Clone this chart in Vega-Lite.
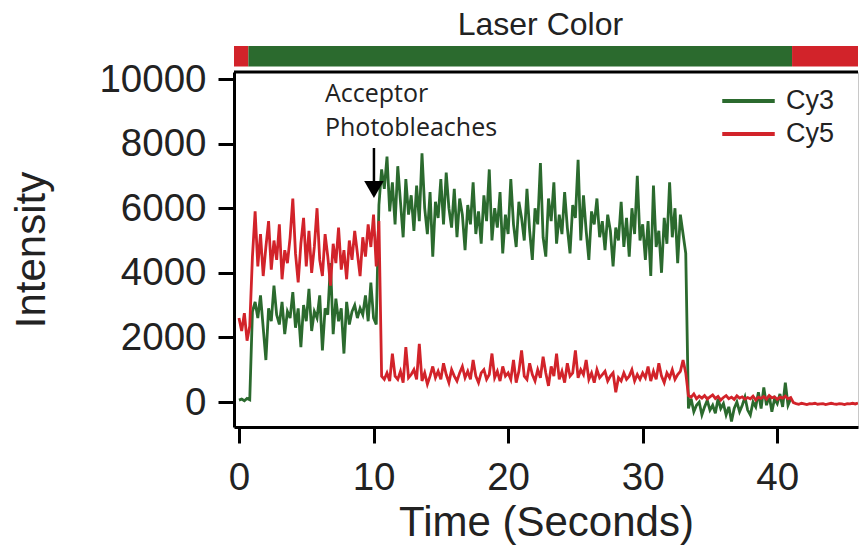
{
  "$schema": "https://vega.github.io/schema/vega-lite/v6.json",
  "autosize": {"type": "none"},
  "width": 624,
  "height": 355,
  "padding": {"left": 234, "top": 72, "right": 2, "bottom": 123},
  "background": "white",
  "config": {
    "view": {"stroke": "#c8c8c8", "strokeWidth": 1},
    "axis": {
      "domainColor": "black", "domainWidth": 3, "tickColor": "black", "tickWidth": 3, "tickSize": 16,
      "labelFont": "Liberation Sans", "labelFontSize": 38.5, "labelColor": "#222222",
      "titleFont": "Liberation Sans", "titleFontSize": 42, "titleFontWeight": "normal", "titleColor": "#222222",
      "grid": false
    },
    "axisX": {"labelPadding": 16, "titlePadding": 6},
    "axisY": {"labelPadding": 12, "titlePadding": 45},
    "legend": {
      "labelFont": "Liberation Sans", "labelFontSize": 27, "labelColor": "#222222",
      "symbolType": "M-2.5,0H2.5", "symbolStrokeWidth": 4, "symbolSize": 441, "labelOffset": 24,
      "rowPadding": 5, "padding": 0
    }
  },
  "datasets": {
    "traces": [
      {"t": 0.0, "Cy3": 60, "Cy5": 2600},
      {"t": 0.2, "Cy3": 90, "Cy5": 2200},
      {"t": 0.4, "Cy3": 40, "Cy5": 2750},
      {"t": 0.6, "Cy3": 110, "Cy5": 1900},
      {"t": 0.8, "Cy3": 70, "Cy5": 2350},
      {"t": 1.0, "Cy3": 2800, "Cy5": 4500},
      {"t": 1.2, "Cy3": 3100, "Cy5": 5900},
      {"t": 1.4, "Cy3": 2600, "Cy5": 4200},
      {"t": 1.6, "Cy3": 3300, "Cy5": 5200},
      {"t": 1.8, "Cy3": 2300, "Cy5": 3900},
      {"t": 2.0, "Cy3": 1300, "Cy5": 4800},
      {"t": 2.2, "Cy3": 2900, "Cy5": 5600},
      {"t": 2.4, "Cy3": 2500, "Cy5": 4100},
      {"t": 2.6, "Cy3": 3600, "Cy5": 5000},
      {"t": 2.8, "Cy3": 2700, "Cy5": 4400},
      {"t": 3.0, "Cy3": 2400, "Cy5": 5500},
      {"t": 3.2, "Cy3": 3100, "Cy5": 3800},
      {"t": 3.4, "Cy3": 2100, "Cy5": 4700},
      {"t": 3.6, "Cy3": 2800, "Cy5": 4300},
      {"t": 3.8, "Cy3": 2600, "Cy5": 5100},
      {"t": 4.0, "Cy3": 3400, "Cy5": 6300},
      {"t": 4.2, "Cy3": 2300, "Cy5": 4600},
      {"t": 4.4, "Cy3": 2900, "Cy5": 3700},
      {"t": 4.6, "Cy3": 1700, "Cy5": 4900},
      {"t": 4.8, "Cy3": 3000, "Cy5": 5700},
      {"t": 5.0, "Cy3": 2500, "Cy5": 4200},
      {"t": 5.2, "Cy3": 3500, "Cy5": 5300},
      {"t": 5.4, "Cy3": 2200, "Cy5": 4000},
      {"t": 5.6, "Cy3": 2800, "Cy5": 4800},
      {"t": 5.8, "Cy3": 2600, "Cy5": 6000},
      {"t": 6.0, "Cy3": 3300, "Cy5": 4400},
      {"t": 6.2, "Cy3": 1600, "Cy5": 3900},
      {"t": 6.4, "Cy3": 2900, "Cy5": 5200},
      {"t": 6.6, "Cy3": 2700, "Cy5": 4500},
      {"t": 6.8, "Cy3": 4300, "Cy5": 3600},
      {"t": 7.0, "Cy3": 2100, "Cy5": 4900},
      {"t": 7.2, "Cy3": 3200, "Cy5": 4300},
      {"t": 7.4, "Cy3": 2500, "Cy5": 5400},
      {"t": 7.6, "Cy3": 2900, "Cy5": 4100},
      {"t": 7.8, "Cy3": 1500, "Cy5": 4700},
      {"t": 8.0, "Cy3": 3100, "Cy5": 3800},
      {"t": 8.2, "Cy3": 2400, "Cy5": 5000},
      {"t": 8.4, "Cy3": 2800, "Cy5": 4400},
      {"t": 8.6, "Cy3": 3000, "Cy5": 5300},
      {"t": 8.8, "Cy3": 2600, "Cy5": 4600},
      {"t": 9.0, "Cy3": 2900, "Cy5": 3900},
      {"t": 9.2, "Cy3": 2700, "Cy5": 5100},
      {"t": 9.4, "Cy3": 3300, "Cy5": 4500},
      {"t": 9.6, "Cy3": 2500, "Cy5": 5500},
      {"t": 9.8, "Cy3": 3700, "Cy5": 4800},
      {"t": 10.0, "Cy3": 2600, "Cy5": 5800},
      {"t": 10.2, "Cy3": 2400, "Cy5": 4200},
      {"t": 10.4, "Cy3": 6100, "Cy5": 5600},
      {"t": 10.6, "Cy3": 7200, "Cy5": 800},
      {"t": 10.8, "Cy3": 6600, "Cy5": 700},
      {"t": 11.0, "Cy3": 7600, "Cy5": 900},
      {"t": 11.2, "Cy3": 5900, "Cy5": 650},
      {"t": 11.4, "Cy3": 6800, "Cy5": 1500},
      {"t": 11.6, "Cy3": 5500, "Cy5": 800},
      {"t": 11.8, "Cy3": 7300, "Cy5": 700},
      {"t": 12.0, "Cy3": 6200, "Cy5": 950},
      {"t": 12.2, "Cy3": 5100, "Cy5": 600},
      {"t": 12.4, "Cy3": 6900, "Cy5": 1700},
      {"t": 12.6, "Cy3": 5800, "Cy5": 750},
      {"t": 12.8, "Cy3": 6400, "Cy5": 850},
      {"t": 13.0, "Cy3": 5300, "Cy5": 1000},
      {"t": 13.2, "Cy3": 6700, "Cy5": 700},
      {"t": 13.4, "Cy3": 5600, "Cy5": 1800},
      {"t": 13.6, "Cy3": 7700, "Cy5": 650},
      {"t": 13.8, "Cy3": 6000, "Cy5": 900},
      {"t": 14.0, "Cy3": 5200, "Cy5": 550},
      {"t": 14.2, "Cy3": 6500, "Cy5": 800},
      {"t": 14.4, "Cy3": 4500, "Cy5": 1100},
      {"t": 14.6, "Cy3": 6200, "Cy5": 750},
      {"t": 14.8, "Cy3": 5700, "Cy5": 950},
      {"t": 15.0, "Cy3": 6900, "Cy5": 700},
      {"t": 15.2, "Cy3": 5500, "Cy5": 1200},
      {"t": 15.4, "Cy3": 7100, "Cy5": 850},
      {"t": 15.6, "Cy3": 6000, "Cy5": 600},
      {"t": 15.8, "Cy3": 5400, "Cy5": 1000},
      {"t": 16.0, "Cy3": 6600, "Cy5": 800},
      {"t": 16.2, "Cy3": 5100, "Cy5": 650},
      {"t": 16.4, "Cy3": 6300, "Cy5": 900},
      {"t": 16.6, "Cy3": 5800, "Cy5": 1100},
      {"t": 16.8, "Cy3": 4700, "Cy5": 750},
      {"t": 17.0, "Cy3": 6100, "Cy5": 950},
      {"t": 17.2, "Cy3": 5500, "Cy5": 700},
      {"t": 17.4, "Cy3": 6800, "Cy5": 1300},
      {"t": 17.6, "Cy3": 5200, "Cy5": 800},
      {"t": 17.8, "Cy3": 5900, "Cy5": 600},
      {"t": 18.0, "Cy3": 4900, "Cy5": 900},
      {"t": 18.2, "Cy3": 6400, "Cy5": 1000},
      {"t": 18.4, "Cy3": 5600, "Cy5": 700},
      {"t": 18.6, "Cy3": 7200, "Cy5": 850},
      {"t": 18.8, "Cy3": 5000, "Cy5": 1500},
      {"t": 19.0, "Cy3": 6000, "Cy5": 750},
      {"t": 19.2, "Cy3": 5400, "Cy5": 950},
      {"t": 19.4, "Cy3": 6500, "Cy5": 650},
      {"t": 19.6, "Cy3": 4600, "Cy5": 1100},
      {"t": 19.8, "Cy3": 5800, "Cy5": 800},
      {"t": 20.0, "Cy3": 5200, "Cy5": 900},
      {"t": 20.2, "Cy3": 6900, "Cy5": 700},
      {"t": 20.4, "Cy3": 5500, "Cy5": 1300},
      {"t": 20.6, "Cy3": 4800, "Cy5": 600},
      {"t": 20.8, "Cy3": 6200, "Cy5": 950},
      {"t": 21.0, "Cy3": 5700, "Cy5": 1600},
      {"t": 21.2, "Cy3": 5000, "Cy5": 800},
      {"t": 21.4, "Cy3": 6600, "Cy5": 700},
      {"t": 21.6, "Cy3": 5300, "Cy5": 1200},
      {"t": 21.8, "Cy3": 4400, "Cy5": 850},
      {"t": 22.0, "Cy3": 6000, "Cy5": 650},
      {"t": 22.2, "Cy3": 5500, "Cy5": 1000},
      {"t": 22.4, "Cy3": 7400, "Cy5": 750},
      {"t": 22.6, "Cy3": 5100, "Cy5": 1400},
      {"t": 22.8, "Cy3": 4500, "Cy5": 900},
      {"t": 23.0, "Cy3": 6300, "Cy5": 500},
      {"t": 23.2, "Cy3": 5600, "Cy5": 1100},
      {"t": 23.4, "Cy3": 6800, "Cy5": 800},
      {"t": 23.6, "Cy3": 4900, "Cy5": 1500},
      {"t": 23.8, "Cy3": 5800, "Cy5": 700},
      {"t": 24.0, "Cy3": 5200, "Cy5": 950},
      {"t": 24.2, "Cy3": 6500, "Cy5": 600},
      {"t": 24.4, "Cy3": 5400, "Cy5": 1200},
      {"t": 24.6, "Cy3": 4600, "Cy5": 800},
      {"t": 24.8, "Cy3": 6100, "Cy5": 900},
      {"t": 25.0, "Cy3": 5700, "Cy5": 1600},
      {"t": 25.2, "Cy3": 7500, "Cy5": 750},
      {"t": 25.4, "Cy3": 5000, "Cy5": 1000},
      {"t": 25.6, "Cy3": 6400, "Cy5": 850},
      {"t": 25.8, "Cy3": 5300, "Cy5": 1300},
      {"t": 26.0, "Cy3": 4400, "Cy5": 700},
      {"t": 26.2, "Cy3": 5900, "Cy5": 900},
      {"t": 26.4, "Cy3": 5500, "Cy5": 600},
      {"t": 26.6, "Cy3": 6300, "Cy5": 1000},
      {"t": 26.8, "Cy3": 5100, "Cy5": 750},
      {"t": 27.0, "Cy3": 5600, "Cy5": 850},
      {"t": 27.2, "Cy3": 4700, "Cy5": 950},
      {"t": 27.4, "Cy3": 5800, "Cy5": 650},
      {"t": 27.6, "Cy3": 5300, "Cy5": 800},
      {"t": 27.8, "Cy3": 4200, "Cy5": 900},
      {"t": 28.0, "Cy3": 5400, "Cy5": 300},
      {"t": 28.2, "Cy3": 5000, "Cy5": 750},
      {"t": 28.4, "Cy3": 6200, "Cy5": 650},
      {"t": 28.6, "Cy3": 4800, "Cy5": 900},
      {"t": 28.8, "Cy3": 5700, "Cy5": 700},
      {"t": 29.0, "Cy3": 4500, "Cy5": 800},
      {"t": 29.2, "Cy3": 6000, "Cy5": 1000},
      {"t": 29.4, "Cy3": 5200, "Cy5": 650},
      {"t": 29.6, "Cy3": 7000, "Cy5": 850},
      {"t": 29.8, "Cy3": 5000, "Cy5": 700},
      {"t": 30.0, "Cy3": 5500, "Cy5": 900},
      {"t": 30.2, "Cy3": 4400, "Cy5": 750},
      {"t": 30.4, "Cy3": 5600, "Cy5": 1100},
      {"t": 30.6, "Cy3": 3900, "Cy5": 650},
      {"t": 30.8, "Cy3": 6700, "Cy5": 950},
      {"t": 31.0, "Cy3": 4800, "Cy5": 700},
      {"t": 31.2, "Cy3": 5300, "Cy5": 1200},
      {"t": 31.4, "Cy3": 4000, "Cy5": 800},
      {"t": 31.6, "Cy3": 5700, "Cy5": 600},
      {"t": 31.8, "Cy3": 4900, "Cy5": 900},
      {"t": 32.0, "Cy3": 6800, "Cy5": 750},
      {"t": 32.2, "Cy3": 5100, "Cy5": 1000},
      {"t": 32.4, "Cy3": 6000, "Cy5": 700},
      {"t": 32.6, "Cy3": 4300, "Cy5": 850},
      {"t": 32.8, "Cy3": 5800, "Cy5": 950},
      {"t": 33.0, "Cy3": 5200, "Cy5": 1300},
      {"t": 33.2, "Cy3": 4600, "Cy5": 900},
      {"t": 33.4, "Cy3": -200, "Cy5": 200},
      {"t": 33.6, "Cy3": 100, "Cy5": 150},
      {"t": 33.8, "Cy3": -300, "Cy5": 250},
      {"t": 34.0, "Cy3": -100, "Cy5": 100},
      {"t": 34.2, "Cy3": 0, "Cy5": 180},
      {"t": 34.4, "Cy3": -400, "Cy5": 120},
      {"t": 34.6, "Cy3": -150, "Cy5": 200},
      {"t": 34.8, "Cy3": 50, "Cy5": 90},
      {"t": 35.0, "Cy3": -250, "Cy5": 160},
      {"t": 35.2, "Cy3": -100, "Cy5": 220},
      {"t": 35.4, "Cy3": -350, "Cy5": 110},
      {"t": 35.6, "Cy3": 100, "Cy5": 170},
      {"t": 35.8, "Cy3": -200, "Cy5": 60},
      {"t": 36.0, "Cy3": -50, "Cy5": 140},
      {"t": 36.2, "Cy3": -400, "Cy5": 200},
      {"t": 36.4, "Cy3": -150, "Cy5": 100},
      {"t": 36.6, "Cy3": -600, "Cy5": 150},
      {"t": 36.8, "Cy3": -200, "Cy5": 80},
      {"t": 37.0, "Cy3": 0, "Cy5": 190},
      {"t": 37.2, "Cy3": -300, "Cy5": 120},
      {"t": 37.4, "Cy3": -100, "Cy5": 160},
      {"t": 37.6, "Cy3": 150, "Cy5": 90},
      {"t": 37.8, "Cy3": -250, "Cy5": 140},
      {"t": 38.0, "Cy3": -400, "Cy5": 100},
      {"t": 38.2, "Cy3": 0, "Cy5": 180},
      {"t": 38.4, "Cy3": -150, "Cy5": 60},
      {"t": 38.6, "Cy3": 300, "Cy5": 150},
      {"t": 38.8, "Cy3": -200, "Cy5": 110},
      {"t": 39.0, "Cy3": 450, "Cy5": 170},
      {"t": 39.2, "Cy3": -100, "Cy5": 90},
      {"t": 39.4, "Cy3": 200, "Cy5": 200},
      {"t": 39.6, "Cy3": -300, "Cy5": 130},
      {"t": 39.8, "Cy3": 100, "Cy5": 160},
      {"t": 40.0, "Cy3": -50, "Cy5": 80},
      {"t": 40.2, "Cy3": 250, "Cy5": 150},
      {"t": 40.4, "Cy3": -150, "Cy5": 120},
      {"t": 40.6, "Cy3": 600, "Cy5": 180},
      {"t": 40.8, "Cy3": -100, "Cy5": 100},
      {"t": 41.0, "Cy3": 100, "Cy5": 140},
      {"t": 41.2, "Cy3": null, "Cy5": -20},
      {"t": 41.4, "Cy3": null, "Cy5": -50},
      {"t": 41.6, "Cy3": null, "Cy5": -70},
      {"t": 41.8, "Cy3": null, "Cy5": -40},
      {"t": 42.0, "Cy3": null, "Cy5": -60},
      {"t": 42.2, "Cy3": null, "Cy5": -80},
      {"t": 42.4, "Cy3": null, "Cy5": -50},
      {"t": 42.6, "Cy3": null, "Cy5": -60},
      {"t": 42.8, "Cy3": null, "Cy5": -40},
      {"t": 43.0, "Cy3": null, "Cy5": -70},
      {"t": 43.2, "Cy3": null, "Cy5": -60},
      {"t": 43.4, "Cy3": null, "Cy5": -50},
      {"t": 43.6, "Cy3": null, "Cy5": -80},
      {"t": 43.8, "Cy3": null, "Cy5": -60},
      {"t": 44.0, "Cy3": null, "Cy5": -40},
      {"t": 44.2, "Cy3": null, "Cy5": -60},
      {"t": 44.4, "Cy3": null, "Cy5": -70},
      {"t": 44.6, "Cy3": null, "Cy5": -50},
      {"t": 44.8, "Cy3": null, "Cy5": -60},
      {"t": 45.0, "Cy3": null, "Cy5": -80},
      {"t": 45.2, "Cy3": null, "Cy5": -50},
      {"t": 45.4, "Cy3": null, "Cy5": -60},
      {"t": 45.6, "Cy3": null, "Cy5": -40},
      {"t": 45.8, "Cy3": null, "Cy5": -60},
      {"t": 46.0, "Cy3": null, "Cy5": -30}
    ],
    "laser": [
      {"start": -0.37, "end": 0.7, "channel": "Cy5"},
      {"start": 0.7, "end": 41.1, "channel": "Cy3"},
      {"start": 41.1, "end": 46.0, "channel": "Cy5"}
    ]
  },
  "layer": [
    {
      "data": {"name": "laser"},
      "mark": {"type": "rect"},
      "encoding": {
        "x": {"field": "start", "type": "quantitative", "title": "Time (Seconds)"},
        "x2": {"field": "end"},
        "y": {"datum": 10387, "type": "quantitative", "title": "Intensity"},
        "y2": {"datum": 11022},
        "color": {"field": "channel", "type": "nominal"}
      }
    },
    {
      "data": {"name": "traces"},
      "transform": [{"fold": ["Cy3", "Cy5"], "as": ["channel", "intensity"]}],
      "mark": {"type": "line", "strokeWidth": 2.8, "clip": true},
      "encoding": {
        "x": {
          "field": "t", "type": "quantitative", "title": "Time (Seconds)",
          "scale": {"domain": [-0.37, 46.0], "nice": false, "zero": false},
          "axis": {"values": [0, 10, 20, 30, 40], "format": "d"}
        },
        "y": {
          "field": "intensity", "type": "quantitative", "title": "Intensity",
          "scale": {"domain": [-774, 10217], "nice": false, "zero": false},
          "axis": {"values": [0, 2000, 4000, 6000, 8000, 10000], "format": "d"}
        },
        "color": {
          "field": "channel", "type": "nominal",
          "scale": {"domain": ["Cy3", "Cy5"], "range": ["#2b6a2e", "#d2232a"]},
          "legend": {"title": null, "orient": "none", "legendX": 501, "legendY": 15.5}
        },
        "detail": {"field": "channel"}
      }
    },
    {
      "data": {"values": [{}]},
      "mark": {"type": "rule", "strokeWidth": 3, "color": "black"},
      "encoding": {"y": {"datum": 10217, "type": "quantitative", "title": "Intensity"}}
    },
    {
      "data": {"values": [{}]},
      "mark": {"type": "text", "text": "Laser Color", "font": "Liberation Sans", "fontSize": 32, "color": "#222222", "align": "center", "baseline": "alphabetic"},
      "encoding": {
        "x": {"datum": 22.4, "type": "quantitative", "title": "Time (Seconds)"},
        "y": {"datum": 11363, "type": "quantitative", "title": "Intensity"}
      }
    },
    {
      "data": {"values": [{}]},
      "mark": {"type": "text", "text": ["Acceptor", "Photobleaches"], "font": "Open Sans", "fontSize": 25, "lineHeight": 34, "color": "#222222", "align": "left", "baseline": "alphabetic"},
      "encoding": {
        "x": {"datum": 6.39, "type": "quantitative", "title": "Time (Seconds)"},
        "y": {"datum": 9288, "type": "quantitative", "title": "Intensity"}
      }
    },
    {
      "data": {"values": [{}]},
      "mark": {"type": "rule", "strokeWidth": 2.5, "color": "black"},
      "encoding": {
        "x": {"datum": 10.03, "type": "quantitative", "title": "Time (Seconds)"},
        "y": {"datum": 7864, "type": "quantitative", "title": "Intensity"},
        "y2": {"datum": 6700}
      }
    },
    {
      "data": {"values": [{}]},
      "mark": {"type": "point", "shape": "triangle-down", "filled": true, "color": "black", "size": 380, "opacity": 1},
      "encoding": {
        "x": {"datum": 10.03, "type": "quantitative", "title": "Time (Seconds)"},
        "y": {"datum": 6580, "type": "quantitative", "title": "Intensity"}
      }
    }
  ]
}
